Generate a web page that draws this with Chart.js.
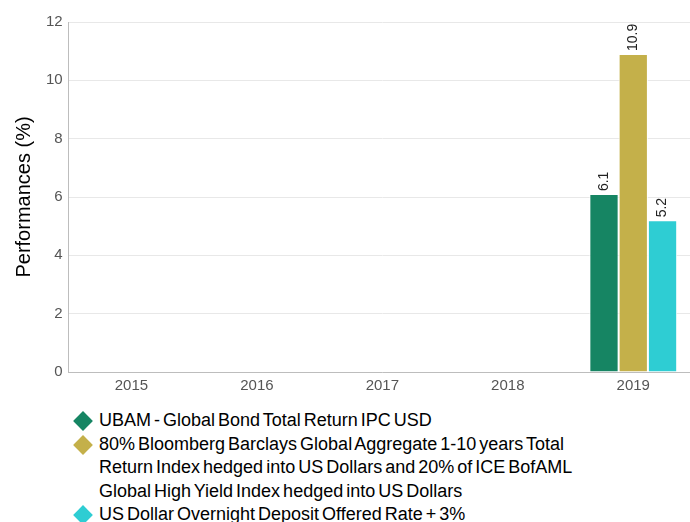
<!DOCTYPE html>
<html>
<head>
<meta charset="utf-8">
<script src="https://cdn.jsdelivr.net/npm/chart.js@4.4.0/dist/chart.umd.min.js"></script>
<style>
  body { margin: 0; background: #fff; font-family: "Liberation Sans", Arial, sans-serif; }
  #wrap { position: relative; width: 690px; height: 400px; overflow: hidden; }
  #legend { position: absolute; left: 71px; top: 409px; width: 610px; font-size: 18px; color: #000; line-height: 23.5px; }
  .item { position: relative; padding-left: 28px; width: 478px; word-spacing: -2px; }
  .item .mk { position: absolute; left: 5px; top: 5px; width: 14px; height: 14px; transform: rotate(45deg); }
</style>
</head>
<body>
<div id="wrap"><canvas id="chart" width="696" height="400"></canvas></div>
<div id="legend"></div>
<script>
var years = ['2015', '2016', '2017', '2018', '2019'];
var seriesNames = [
    'UBAM - Global Bond Total Return IPC USD',
    '80% Bloomberg Barclays Global Aggregate 1-10 years Total Return Index hedged into US Dollars and 20% of ICE BofAML Global High Yield Index hedged into US Dollars',
    'US Dollar Overnight Deposit Offered Rate + 3%'
];
var fundValues = [null, null, null, null, 6.1];
var benchValues = [null, null, null, null, 10.9];
var cashValues = [null, null, null, null, 5.2];
var colours = ['#168563', '#c4b04a', '#2ecdd3'];

var valueLabels = {
    id: 'valueLabels',
    afterDatasetsDraw: function(chart) {
        var ctx = chart.ctx;
        ctx.save();
        ctx.font = '14px "Liberation Sans", Arial, sans-serif';
        ctx.fillStyle = '#222';
        ctx.textAlign = 'left';
        ctx.textBaseline = 'middle';
        chart.data.datasets.forEach(function(ds, i) {
            chart.getDatasetMeta(i).data.forEach(function(bar, j) {
                var v = ds.data[j];
                if (v === null) return;
                ctx.save();
                ctx.translate(bar.x, bar.y - 3);
                ctx.rotate(-Math.PI / 2);
                ctx.fillText(v.toFixed(1), 0, 0);
                ctx.restore();
            });
        });
        ctx.restore();
    }
};

var chart_el = document.getElementById('chart');
var perfChart = new Chart(chart_el, {
    type: 'bar',
    data: {
        labels: years,
        datasets: [
            { label: seriesNames[0], data: fundValues, backgroundColor: colours[0] },
            { label: seriesNames[1], data: benchValues, backgroundColor: colours[1] },
            { label: seriesNames[2], data: cashValues, backgroundColor: colours[2] }
        ]
    },
    options: {
        responsive: false,
        animation: false,
        maintainAspectRatio: false,
        layout: { padding: { top: 22, right: 0, left: 8, bottom: 0 } },
        datasets: {
            bar: { borderColor: '#fff', borderWidth: 1, categoryPercentage: 0.7, barPercentage: 1 }
        },
        plugins: {
            legend: { display: false },
            tooltip: { enabled: false }
        },
        scales: {
            x: {
                grid: { display: false, drawTicks: false },
                border: { color: '#bdbdbd' },
                ticks: { color: '#555', font: { size: 15, family: '"Liberation Sans", Arial' }, padding: 5 }
            },
            y: {
                min: 0,
                max: 12,
                grid: { color: '#e8e8e8', drawTicks: false },
                border: { color: '#bdbdbd' },
                ticks: { stepSize: 2, color: '#555', font: { size: 15, family: '"Liberation Sans", Arial' }, padding: 6 },
                title: { display: true, text: 'Performances (%)', color: '#000', font: { size: 20, family: '"Liberation Sans", Arial' }, padding: 4 }
            }
        }
    },
    plugins: [valueLabels]
});

var legendBox = document.getElementById('legend');
seriesNames.forEach(function(name, i) {
    var d = document.createElement('div');
    d.className = 'item';
    d.innerHTML = '<span class="mk" style="background:' + colours[i] + '"></span>' + name;
    legendBox.appendChild(d);
});
</script>
</body>
</html>
